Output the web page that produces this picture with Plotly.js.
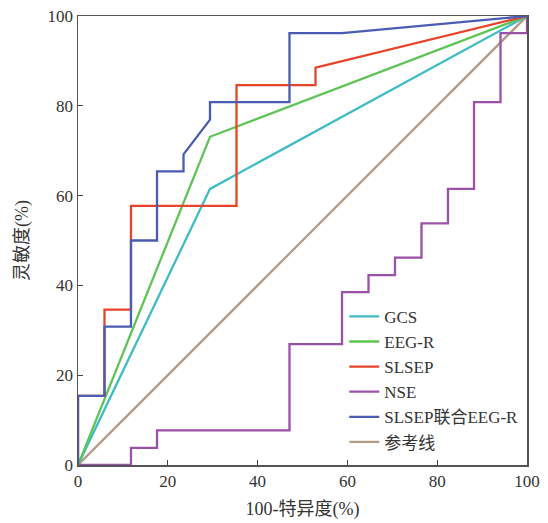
<!DOCTYPE html>
<html><head><meta charset="utf-8">
<script src="https://cdn.plot.ly/plotly-3.0.1.min.js"></script>
<style>html,body{margin:0;padding:0;background:#fff}#chart{width:548px;height:523px}</style>
</head><body><div id="chart"></div>
<script>
// Data (x: 100-特异度 %, y: 灵敏度 %)
const gcsX = [0, 29.4, 100];
const gcsY = [0, 61.5, 100];
const eegX = [0, 29.4, 100];
const eegY = [0, 73.1, 100];
const slsepX = [0, 0, 5.9, 5.9, 11.8, 11.8, 35.3, 35.3, 52.9, 52.9, 100];
const slsepY = [0, 15.4, 15.4, 34.6, 34.6, 57.7, 57.7, 84.6, 84.6, 88.5, 100];
const nseX = [0, 11.8, 11.8, 17.6, 17.6, 47.1, 47.1, 58.8, 58.8, 64.7, 64.7, 70.6, 70.6, 76.5, 76.5, 82.4, 82.4, 88.2, 88.2, 94.1, 94.1, 100, 100];
const nseY = [0, 0, 3.8, 3.8, 7.7, 7.7, 26.9, 26.9, 38.5, 38.5, 42.3, 42.3, 46.2, 46.2, 53.8, 53.8, 61.5, 61.5, 80.8, 80.8, 96.2, 96.2, 100];
const comboX = [0, 0, 5.9, 5.9, 11.8, 11.8, 17.6, 17.6, 23.5, 23.5, 29.4, 29.4, 47.1, 47.1, 58.8, 100];
const comboY = [0, 15.4, 15.4, 30.8, 30.8, 50.0, 50.0, 65.4, 65.4, 69.2, 76.9, 80.8, 80.8, 96.2, 96.2, 100];
const refX = [0, 100];
const refY = [0, 100];
const names = ['GCS', 'EEG-R', 'SLSEP', 'NSE', 'SLSEP联合EEG-R', '参考线'];
const tickVals = [0, 20, 40, 60, 80, 100];

const colors = ['#3fbcc4', '#5fc456', '#e8442c', '#9a52a8', '#4a5db3', '#b49c88'];
const serif = '"Liberation Serif", "DejaVu Serif", "Noto Sans CJK SC", serif';

function tr(x, y, i) {
  return {x: x, y: y, name: names[i], type: 'scatter', mode: 'lines',
          line: {color: colors[i], width: 2.3}, hoverinfo: 'skip'};
}
const traces = [
  tr(gcsX, gcsY, 0),
  tr(eegX, eegY, 1),
  tr(slsepX, slsepY, 2),
  tr(nseX, nseY, 3),
  tr(comboX, comboY, 4),
  tr(refX, refY, 5)
];
const order = [5, 3, 0, 1, 2, 4];
const data = order.map(i => Object.assign(traces[i], {legendrank: i + 1}));

const axisCommon = {
  range: [0, 100], tickvals: tickVals, ticks: 'inside', ticklen: 5, tickwidth: 1.2,
  tickcolor: '#444', showline: true, linecolor: '#555', linewidth: 1.5, mirror: true,
  showgrid: false, zeroline: false, fixedrange: true,
  tickfont: {family: serif, size: 17, color: '#333'}
};
const layout = {
  width: 548, height: 523,
  margin: {l: 78, r: 21, t: 16, b: 58},
  paper_bgcolor: '#ffffff', plot_bgcolor: '#ffffff',
  showlegend: true,
  xaxis: Object.assign({}, axisCommon, {
    title: {text: '100-特异度(%)', font: {family: serif, size: 18, color: '#333'}, standoff: 12}
  }),
  yaxis: Object.assign({}, axisCommon, {
    title: {text: '灵敏度(%)', font: {family: serif, size: 18, color: '#333'}, standoff: 14}
  }),
  legend: {
    x: 0.593, y: 0.37, xanchor: 'left', yanchor: 'top',
    bgcolor: 'rgba(0,0,0,0)', borderwidth: 0,
    font: {family: serif, size: 17, color: '#333'},
    itemwidth: 30, tracegroupgap: 0
  }
};
Plotly.newPlot('chart', data, layout, {staticPlot: true, displayModeBar: false});
</script></body></html>
